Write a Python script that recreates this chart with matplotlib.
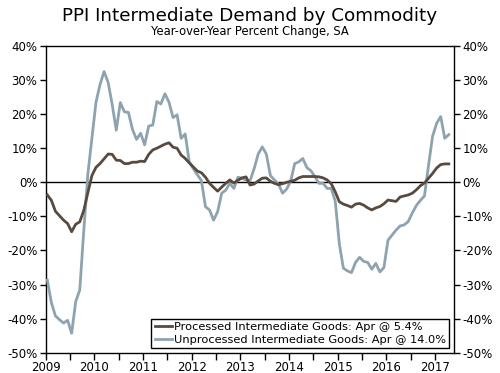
import numpy as np
import matplotlib
matplotlib.use("Agg")
import matplotlib.pyplot as plt
from matplotlib.ticker import MultipleLocator, FuncFormatter

# Monthly data, Jan 2009 - Apr 2017 (YoY % change)
start_year = 2009
processed = [
    -3.7, -5.3, -8.5, -9.8, -11.1, -12.1, -14.5, -12.3, -11.6, -8.2, -3.0, 2.0,   # 2009
    4.4, 5.5, 6.9, 8.3, 8.2, 6.5, 6.4, 5.5, 5.5, 5.9, 5.9, 6.2,                   # 2010
    6.1, 8.2, 9.5, 10.0, 10.6, 11.2, 11.6, 10.3, 10.0, 8.0, 7.0, 5.7,             # 2011
    4.5, 3.3, 2.8, 1.5, -0.3, -1.5, -2.6, -1.4, -0.3, 0.7, -0.2, 0.6,             # 2012
    1.3, 1.6, -0.8, -0.5, 0.4, 1.2, 1.3, 0.3, -0.3, -0.7, -0.4, 0.0,              # 2013
    0.3, 0.6, 1.3, 1.7, 1.7, 1.7, 1.7, 1.6, 1.3, 0.7, -0.4, -2.8,                 # 2014
    -5.7, -6.4, -6.8, -7.3, -6.4, -6.2, -6.7, -7.5, -8.1, -7.5, -7.1, -6.3,       # 2015
    -5.2, -5.4, -5.6, -4.3, -4.0, -3.7, -3.2, -2.2, -1.0, -0.2, 1.2, 2.6,         # 2016
    4.2, 5.2, 5.4, 5.4,                                                           # 2017
]
unprocessed = [
    -28.7, -35.3, -39.2, -40.3, -41.3, -40.5, -44.3, -35.0, -31.6, -14.0, 2.5, 13.0,   # 2009
    23.5, 28.7, 32.5, 29.3, 22.8, 15.3, 23.4, 20.7, 20.5, 15.5, 12.6, 14.4,            # 2010
    11.0, 16.5, 16.8, 23.7, 23.0, 26.0, 23.5, 19.0, 19.8, 12.9, 14.2, 6.0,             # 2011
    4.0, 2.2, 0.5, -7.2, -8.1, -11.1, -8.6, -3.2, -2.3, -0.3, -1.8, 1.5,               # 2012
    1.2, 0.6, 0.5, 4.0, 8.3, 10.4, 8.3, 2.0, 0.7, -0.5, -3.2, -2.0,                    # 2013
    0.3, 5.5, 6.0, 7.0, 4.3, 3.4, 1.6, -0.3, -0.3, -1.8, -1.8, -5.5,                   # 2014
    -18.0, -25.2, -26.0, -26.5, -23.5, -22.0, -23.2, -23.5, -25.5, -23.8, -26.3, -25.0, # 2015
    -17.0, -15.5, -14.0, -12.8, -12.5, -11.5, -9.0, -6.8, -5.3, -4.0, 5.0, 13.5,       # 2016
    17.3, 19.3, 12.9, 14.0,                                                            # 2017
]
labels = ["Processed Intermediate Goods: Apr @ 5.4%",
          "Unprocessed Intermediate Goods: Apr @ 14.0%"]
title = "PPI Intermediate Demand by Commodity"
subtitle = "Year-over-Year Percent Change, SA"
year_ticks = list(range(2009, 2018))

months = np.arange(len(processed))
x = start_year + (months + 0.4) / 12.0

fig = plt.figure(figsize=(5.0, 3.73), dpi=100)
ax = fig.add_axes([45.7/500, 1-352.7/373, (454-45.7)/500, (352.7-46)/373])

ax.plot(x, unprocessed, color="#8ea3b0", lw=2.0, solid_joinstyle="round", label=labels[1], zorder=3)
ax.plot(x, processed, color="#594a40", lw=2.0, solid_joinstyle="round", label=labels[0], zorder=4)
ax.axhline(0, color="black", lw=1.0, zorder=2)

ax.set_xlim(2009, 2017.39)
ax.set_ylim(-50, 40)
ax.yaxis.set_major_locator(MultipleLocator(10))
ax.yaxis.set_major_formatter(FuncFormatter(lambda v, p: f"{int(round(v))}%"))
ax.set_xticks(year_ticks)
ax.set_xticklabels([str(y) for y in year_ticks])
ax.xaxis.set_minor_locator(MultipleLocator(0.5))
ax.tick_params(axis="y", which="both", direction="out", length=4, width=1,
               left=True, right=True, labelleft=True, labelright=True, labelsize=8.5, pad=2)
ax.tick_params(axis="x", which="both", direction="out", length=5, width=1,
               labelsize=8.5, pad=1)
for s in ax.spines.values():
    s.set_linewidth(1.0)
    s.set_color("black")

h, l = ax.get_legend_handles_labels()
leg = ax.legend([h[1], h[0]], [l[1], l[0]], loc="lower right", fontsize=8.2,
                frameon=True, fancybox=False, edgecolor="black", framealpha=1,
                handlelength=1.5, handletextpad=0.2, borderpad=0.3, labelspacing=0.2,
                borderaxespad=0.4)
leg.get_frame().set_linewidth(1.0)

fig.text(0.5, 1-16/373, title, ha="center", va="center", fontsize=13.2)
fig.text(0.5, 1-32/373, subtitle, ha="center", va="center", fontsize=8.3)

fig.savefig("out.png", dpi=100)
